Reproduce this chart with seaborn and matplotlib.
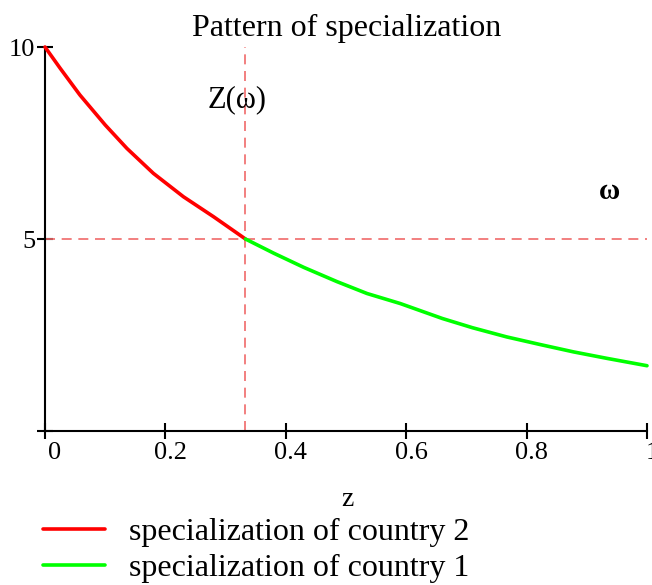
import matplotlib
matplotlib.use("Agg")
import matplotlib.pyplot as plt
from matplotlib.lines import Line2D
from matplotlib.transforms import ScaledTranslation
import seaborn as sns
import pandas as pd

# ---- data ----
z_country2 = [0.0, 0.025, 0.058, 0.10, 0.136, 0.18, 0.23, 0.28, 0.333]
v_country2 = [10.0, 9.45, 8.75, 7.97, 7.36, 6.71, 6.10, 5.58, 5.0]
z_country1 = [0.333, 0.38, 0.43, 0.485, 0.535, 0.59, 0.66, 0.71, 0.767, 0.823, 0.878, 0.934, 1.0]
v_country1 = [5.0, 4.63, 4.26, 3.89, 3.58, 3.32, 2.93, 2.69, 2.45, 2.25, 2.06, 1.89, 1.70]
series_names = ["specialization of country 2", "specialization of country 1"]
z_star = 0.333
omega_star = 5.0
x_ticks = [0, 0.2, 0.4, 0.6, 0.8, 1]
x_tick_labels = ["0", "0.2", "0.4", "0.6", "0.8", "1"]
y_ticks = [0, 5, 10]
y_tick_labels = ["", "5", "10"]
title = "Pattern of specialization"

df = pd.concat([
    pd.DataFrame({"z": z_country2, "w": v_country2, "series": series_names[0]}),
    pd.DataFrame({"z": z_country1, "w": v_country1, "series": series_names[1]}),
], ignore_index=True)

sns.set_theme(style="white")
plt.rcParams["font.family"] = ["Liberation Serif", "DejaVu Serif"]
plt.rcParams["text.color"] = "black"

W, H = 652, 585
fig = plt.figure(figsize=(W / 100, H / 100), dpi=100)
ax = fig.add_axes([45 / W, 1 - 431 / H, (647 - 45) / W, (431 - 47) / H])

palette = {series_names[0]: "#ff0000", series_names[1]: "#00ff00"}
ax.axvline(z_star, color="#f06a6a", lw=1.2, dashes=(6, 4), zorder=1)
ax.axhline(omega_star, color="#f06a6a", lw=1.2, dashes=(6, 4), zorder=1)
sns.lineplot(data=df, x="z", y="w", hue="series", palette=palette, ax=ax,
             linewidth=2.6, legend=False, sort=False, estimator=None, zorder=3)
for ln in ax.lines:
    ln.set_clip_on(False)

ax.set_xlim(0, 1)
ax.set_ylim(0, 10)
ax.set_xlabel("")
ax.set_ylabel("")
for s in ["top", "right"]:
    ax.spines[s].set_visible(False)
for s in ["left", "bottom"]:
    ax.spines[s].set_color("black")
    ax.spines[s].set_linewidth(1.5)

ax.set_xticks(x_ticks)
ax.set_xticklabels(x_tick_labels)
ax.set_yticks(y_ticks)
ax.set_yticklabels(y_tick_labels)
ax.tick_params(axis="both", bottom=True, left=True, direction="inout", length=12, width=1.5,
               color="black", labelsize=19, labelcolor="black")
ax.tick_params(axis="x", pad=2)
ax.tick_params(axis="y", pad=1)
for i, lbl in enumerate(ax.get_xticklabels()):
    dx = 10 if i == 0 else 5
    lbl.set_transform(lbl.get_transform() + ScaledTranslation(dx / 100, 0, fig.dpi_scale_trans))

fig.text(347 / W, 1 - 28 / H, title, ha="center", va="center", fontsize=23)
fig.text(347 / W, 1 - 499 / H, "z", ha="center", va="center", fontsize=20)
fig.text(237 / W, 1 - 100 / H, "Z(ω)", ha="center", va="center", fontsize=22)
fig.text(610 / W, 1 - 192 / H, "ω", ha="center", va="center", fontsize=21, fontweight="bold")

handles = [Line2D([0], [0], color=palette[n], lw=2.6) for n in series_names]
fig.legend(handles, series_names, loc="upper left", bbox_to_anchor=(43 / W, 1 - 518 / H),
           frameon=False, fontsize=23, handlelength=1.95, handletextpad=0.75,
           labelspacing=0.2, borderpad=0, borderaxespad=0)

fig.savefig("out.png", dpi=100)
